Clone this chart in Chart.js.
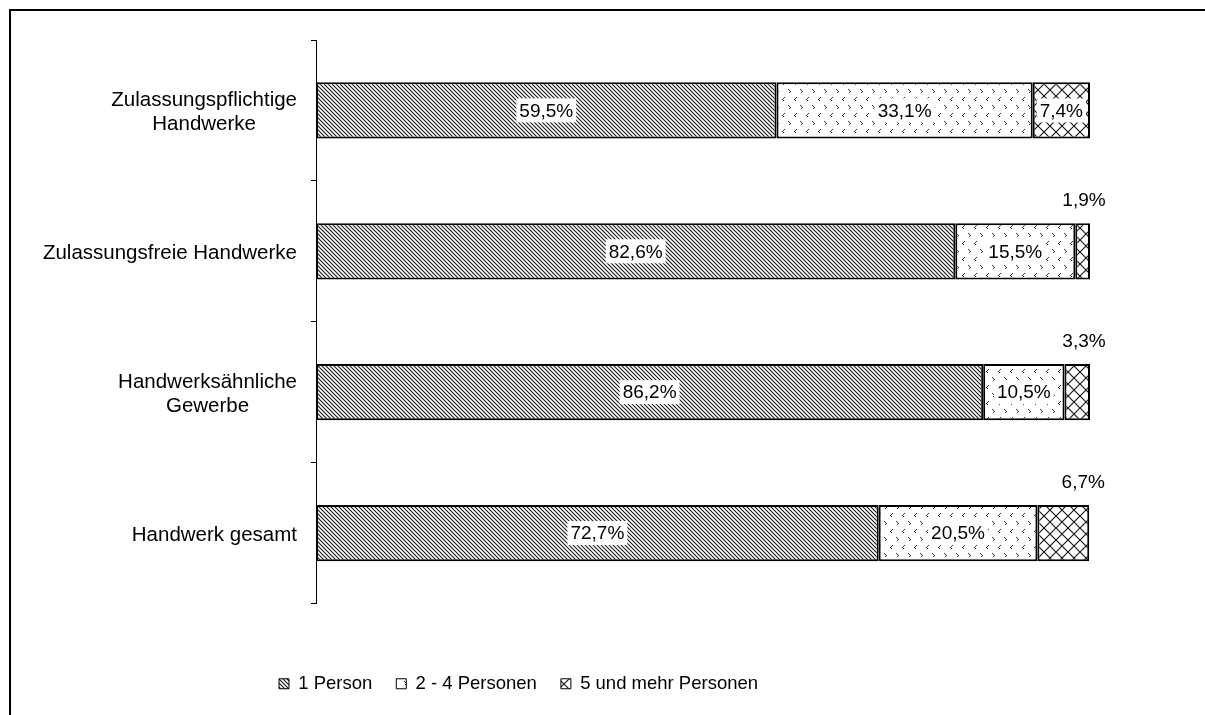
<!DOCTYPE html>
<html>
<head>
<meta charset="utf-8">
<script src="https://cdn.jsdelivr.net/npm/chart.js@4.4.0/dist/chart.umd.min.js"></script>
<style>
    html, body { margin: 0; padding: 0; background: #fff; }
    #wrap { width: 1205px; height: 715px; position: relative; }
</style>
</head>
<body>
<div id="wrap"><canvas id="myBarChart" width="1205" height="715"></canvas></div>
<script>
var CATEGORIES = [
    ['Zulassungspflichtige', 'Handwerke'],
    ['Zulassungsfreie Handwerke'],
    ['Handwerksähnliche', 'Gewerbe'],
    ['Handwerk gesamt']
];
var SERIES_NAMES = ['1 Person', '2 - 4 Personen', '5 und mehr Personen'];
var ONE_PERSON = [59.5, 82.6, 86.2, 72.7];
var TWO_TO_FOUR = [33.1, 15.5, 10.5, 20.5];
var FIVE_PLUS = [7.4, 1.9, 3.3, 6.7];

var FONT = '"Liberation Sans", Arial, sans-serif';

// small repeating tiles, like the old excel fill patterns
function makePattern(w, h, draw) {
    var c = document.createElement('canvas'),
        x;
    c.width = w;
    c.height = h;
    x = c.getContext('2d');
    x.fillStyle = '#fff';
    x.fillRect(0, 0, w, h);
    draw(x);
    return x.createPattern(c, 'repeat');
}

var stripes = makePattern(4, 4, function (x) {
    x.strokeStyle = '#1a1a1a';
    x.lineWidth = 1.1;
    x.beginPath();
    x.moveTo(-1, -1); x.lineTo(5, 5);
    x.moveTo(-1, 3); x.lineTo(1, 5);
    x.moveTo(3, -1); x.lineTo(5, 1);
    x.stroke();
});

var chevrons = makePattern(12, 16, function (x) {
    x.fillStyle = '#2a2a2a';
    // "<"
    x.fillRect(4, 1, 1, 1); x.fillRect(3, 2, 1, 1); x.fillRect(2, 3, 1, 1); x.fillRect(3, 4, 1, 1);
    // ">"
    x.fillRect(8, 9, 1, 1); x.fillRect(9, 10, 1, 1); x.fillRect(10, 11, 1, 1); x.fillRect(9, 12, 1, 1);
});

var crosshatch = makePattern(12, 12, function (x) {
    x.strokeStyle = '#1a1a1a';
    x.lineWidth = 1.2;
    x.beginPath();
    x.moveTo(0, 0); x.lineTo(12, 12);
    x.moveTo(12, 0); x.lineTo(0, 12);
    x.stroke();
});

var PATTERNS = [stripes, chevrons, crosshatch];

function formatValue(v) {
    return v.toFixed(1).replace('.', ',') + '%';
}

var framePlugin = {
    id: 'frame',
    beforeDraw: function (chart) {
        var ctx = chart.ctx;
        ctx.save();
        ctx.fillStyle = '#fff';
        ctx.fillRect(0, 0, chart.width, chart.height);
        ctx.fillStyle = '#000';
        ctx.fillRect(9, 9, chart.width - 9, 2);
        ctx.fillRect(9, 9, 2, chart.height - 9);
        ctx.restore();
    }
};

var categoryLabels = {
    id: 'categoryLabels',
    afterDraw: function (chart) {
        var scale = chart.scales.y,
            ctx = chart.ctx;

        ctx.save();
        ctx.font = '20.5px ' + FONT;
        ctx.fillStyle = '#000';
        ctx.textAlign = 'center';
        ctx.textBaseline = 'middle';
        chart.data.labels.forEach(function (lines, i) {
            var y = scale.getPixelForValue(i),
                maxW = 0,
                cx;

            lines.forEach(function (l) {
                maxW = Math.max(maxW, ctx.measureText(l).width);
            });
            cx = scale.right - 19 - maxW / 2;
            lines.forEach(function (l, k) {
                ctx.fillText(l, cx, y + 2 + (k - (lines.length - 1) / 2) * 24);
            });
        });
        ctx.restore();
    }
};

var valueLabels = {
    id: 'valueLabels',
    afterDatasetsDraw: function (chart) {
        var ctx = chart.ctx;

        ctx.save();
        ctx.font = '19px ' + FONT;
        ctx.textAlign = 'center';
        ctx.textBaseline = 'middle';
        chart.data.datasets.forEach(function (ds, di) {
            chart.getDatasetMeta(di).data.forEach(function (bar, i) {
                var text = formatValue(ds.data[i]),
                    w = ctx.measureText(text).width,
                    left = Math.min(bar.x, bar.base),
                    right = Math.max(bar.x, bar.base),
                    cx = (left + right) / 2;

                if (ds.data[i] < 7) {
                    // segment too narrow, label goes above the bar end
                    ctx.fillStyle = '#000';
                    ctx.fillText(text, right - 6, bar.y - bar.height / 2 - 22);
                } else {
                    ctx.fillStyle = '#fff';
                    ctx.fillRect(cx - w / 2 - 3, bar.y - 12, w + 6, 24);
                    ctx.fillStyle = '#000';
                    ctx.fillText(text, cx, bar.y + 1);
                }
            });
        });
        ctx.restore();
    }
};

var createBar = function () {
    var values = [ONE_PERSON, TWO_TO_FOUR, FIVE_PLUS],
        datasets = [],
        i;

    for (i = 0; i < values.length; i++) {
        datasets.push({
            label: SERIES_NAMES[i],
            data: values[i],
            backgroundColor: PATTERNS[i],
            borderColor: '#000',
            borderWidth: 2,
            borderSkipped: false,
            categoryPercentage: 0.4,
            barPercentage: 1
        });
    }

    return new Chart(document.getElementById('myBarChart').getContext('2d'), {
        type: 'bar',
        data: {
            labels: CATEGORIES,
            datasets: datasets
        },
        options: {
            indexAxis: 'y',
            responsive: false,
            animation: false,
            devicePixelRatio: 1,
            layout: {
                padding: { left: 255, right: 115, top: 40, bottom: 12 }
            },
            scales: {
                x: {
                    stacked: true,
                    min: 0,
                    max: 100,
                    ticks: { display: false },
                    grid: { display: false },
                    border: { display: false },
                    afterFit: function (s) { s.height = 47; }
                },
                y: {
                    stacked: true,
                    offset: true,
                    ticks: { display: false },
                    grid: {
                        offset: true,
                        drawOnChartArea: false,
                        color: '#000',
                        tickLength: 5
                    },
                    border: { color: '#000', width: 1 },
                    afterFit: function (s) { s.width = 61; }
                }
            },
            plugins: {
                tooltip: { enabled: false },
                legend: {
                    position: 'bottom',
                    align: 'start',
                    labels: {
                        boxWidth: 10,
                        boxHeight: 10,
                        padding: 24,
                        color: '#000',
                        font: { size: 18.5, family: FONT },
                        generateLabels: function (chart) {
                            return Chart.defaults.plugins.legend.labels.generateLabels(chart).map(function (item) {
                                item.lineWidth = 1;
                                return item;
                            });
                        }
                    }
                }
            }
        },
        plugins: [framePlugin, categoryLabels, valueLabels]
    });
};

createBar();
</script>
</body>
</html>
